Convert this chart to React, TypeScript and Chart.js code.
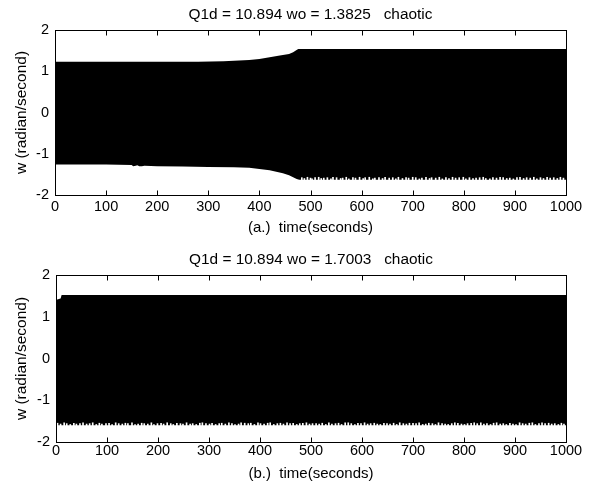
import React, { useEffect, useRef } from "react";
import { Chart, registerables } from "chart.js";

Chart.register(...registerables);

// ---------- data ----------
const xTickValues = [0, 100, 200, 300, 400, 500, 600, 700, 800, 900, 1000];
const yTickValues = [-2, -1, 0, 1, 2];

const titleA = "Q1d = 10.894 wo = 1.3825   chaotic";
const titleB = "Q1d = 10.894 wo = 1.7003   chaotic";
const xLabelA = "(a.)  time(seconds)";
const xLabelB = "(b.)  time(seconds)";
const yLabel = "w (radian/second)";

// (a) upper envelope of w(t)
const upperTimeA = [0, 100, 200, 280, 330, 380, 400, 420, 440, 458, 466, 472, 476, 480, 1000];
const upperA = [1.23, 1.23, 1.23, 1.23, 1.24, 1.27, 1.3, 1.34, 1.38, 1.42, 1.46, 1.51, 1.54, 1.54, 1.54];
// (a) lower envelope of w(t)
const lowerTimeA = [0, 100, 150, 153, 158, 161, 165, 170, 175, 200, 250, 300, 350, 380, 400, 420, 446, 458, 466, 473, 478, 1000];
const lowerA = [-1.26, -1.26, -1.27, -1.3, -1.29, -1.28, -1.3, -1.3, -1.29, -1.3, -1.31, -1.32, -1.33, -1.34, -1.37, -1.4, -1.47, -1.52, -1.57, -1.61, -1.63, -1.63];
// (a) minima that do not reach the envelope bottom
const notchTimeA = [
  483, 488, 494, 500, 503, 509, 516, 521, 526, 533, 540, 544, 551, 559, 563, 570, 575, 583, 588, 596,
  603, 607, 615, 622, 626, 634, 641, 646, 654, 661, 667, 672, 680, 687, 692, 700, 706, 713, 718, 726,
  733, 737, 745, 752, 758, 765, 771, 778, 784, 791, 799, 804, 811, 818, 824, 831, 838, 843, 851, 857,
  864, 871, 877, 884, 890, 897, 904, 910, 917, 923, 930, 937, 943, 950, 956, 963, 969, 976, 983, 989, 995,
];
const notchTopA = [
  -1.58, -1.6, -1.57, -1.59, -1.61, -1.58, -1.57, -1.6, -1.59, -1.58,
  -1.61, -1.57, -1.58, -1.6, -1.59, -1.57, -1.61, -1.58, -1.59, -1.57,
  -1.6, -1.58, -1.57, -1.61, -1.59, -1.58, -1.6, -1.57, -1.59, -1.58,
  -1.61, -1.57, -1.6, -1.58, -1.59, -1.57, -1.58, -1.61, -1.59, -1.57,
  -1.6, -1.58, -1.59, -1.57, -1.61, -1.58, -1.6, -1.57, -1.59, -1.58,
  -1.57, -1.61, -1.58, -1.6, -1.59, -1.58, -1.57, -1.6, -1.61, -1.58,
  -1.59, -1.57, -1.58, -1.6, -1.59, -1.61, -1.58, -1.57, -1.6, -1.58,
  -1.59, -1.57, -1.61, -1.58, -1.6, -1.57, -1.59, -1.58, -1.6, -1.57, -1.59,
];

// (b) envelopes
const upperTimeB = [0, 4, 9, 11, 1000];
const upperB = [1.4, 1.42, 1.44, 1.52, 1.52];
const lowerTimeB = [0, 1000];
const lowerB = [-1.6, -1.6];
const notchTimeB = [
  3, 9, 16, 21, 28, 35, 40, 47, 53, 60, 66, 72, 79, 85, 90, 98, 104, 110, 117, 123,
  130, 136, 141, 149, 155, 161, 168, 173, 180, 187, 192, 199, 206, 211, 218, 225, 230, 237, 244, 249,
  256, 263, 268, 275, 282, 287, 294, 301, 306, 313, 320, 325, 332, 339, 345, 351, 358, 363, 370, 377,
  382, 389, 396, 401, 408, 415, 420, 427, 434, 440, 446, 453, 459, 465, 472, 478, 484, 491, 497, 503,
  510, 516, 522, 529, 535, 541, 548, 554, 560, 567, 573, 579, 586, 592, 598, 605, 611, 617, 624, 630,
  636, 643, 649, 655, 662, 668, 674, 681, 687, 693, 700, 706, 712, 719, 725, 731, 738, 744, 750, 757,
  763, 769, 776, 782, 788, 795, 801, 807, 814, 820, 826, 833, 839, 845, 852, 858, 864, 871, 877, 883,
  890, 896, 902, 909, 915, 921, 928, 934, 940, 947, 953, 959, 966, 972, 978, 985, 991, 996,
];
const notchTopB = [
  -1.55, -1.57, -1.54, -1.56, -1.58, -1.55, -1.57, -1.56, -1.54, -1.57,
  -1.56, -1.54, -1.58, -1.55, -1.57, -1.56, -1.55, -1.58, -1.54, -1.56,
  -1.57, -1.55, -1.56, -1.54, -1.58, -1.57, -1.55, -1.56, -1.57, -1.54,
  -1.58, -1.56, -1.55, -1.57, -1.54, -1.56, -1.58, -1.55, -1.56, -1.57,
  -1.54, -1.57, -1.56, -1.58, -1.55, -1.54, -1.56, -1.57, -1.55, -1.58,
  -1.56, -1.55, -1.57, -1.54, -1.56, -1.58, -1.57, -1.54, -1.55, -1.56,
  -1.55, -1.58, -1.54, -1.56, -1.57, -1.55, -1.54, -1.58, -1.56, -1.55,
  -1.57, -1.54, -1.56, -1.55, -1.58, -1.56, -1.55, -1.54, -1.57, -1.56,
  -1.56, -1.57, -1.55, -1.58, -1.54, -1.57, -1.56, -1.55, -1.58, -1.54,
  -1.54, -1.56, -1.58, -1.55, -1.56, -1.54, -1.57, -1.56, -1.55, -1.57,
  -1.58, -1.55, -1.56, -1.57, -1.55, -1.58, -1.54, -1.56, -1.57, -1.55,
  -1.55, -1.56, -1.54, -1.58, -1.57, -1.55, -1.56, -1.58, -1.54, -1.56,
  -1.57, -1.58, -1.56, -1.54, -1.55, -1.57, -1.58, -1.56, -1.55, -1.54,
  -1.56, -1.54, -1.57, -1.56, -1.58, -1.55, -1.54, -1.57, -1.56, -1.58,
  -1.55, -1.57, -1.58, -1.54, -1.56, -1.57, -1.55, -1.54, -1.58, -1.56,
  -1.54, -1.56, -1.55, -1.57, -1.56, -1.58, -1.55, -1.57,
];

// ---------- styling ----------
const FONT = '"Liberation Sans", Arial, Helvetica, sans-serif';
const W = 591;
const H = 242;

const frameTicks = {
  id: "frameTicks",
  afterDatasetsDraw(chart: any) {
    const { ctx, chartArea: a, scales } = chart;
    const xs = scales.x;
    const ys = scales.y;
    ctx.save();
    ctx.strokeStyle = "#000";
    ctx.lineWidth = 1;
    const L = Math.round(a.left) + 0.5;
    const R = Math.round(a.right) + 0.5;
    const T = Math.round(a.top) + 0.5;
    const B = Math.round(a.bottom) + 0.5;
    ctx.beginPath();
    for (const t of xTickValues) {
      const px = Math.round(xs.getPixelForValue(t)) + 0.5;
      ctx.moveTo(px, B);
      ctx.lineTo(px, B - 5);
      ctx.moveTo(px, T);
      ctx.lineTo(px, T + 5);
    }
    for (const v of yTickValues) {
      const py = Math.round(ys.getPixelForValue(v)) + 0.5;
      ctx.moveTo(L, py);
      ctx.lineTo(L + 5, py);
      ctx.moveTo(R, py);
      ctx.lineTo(R - 5, py);
    }
    ctx.stroke();
    ctx.strokeRect(L, T, R - L, B - T);
    ctx.restore();
  },
};

// axes title centred over the plot box (as MATLAB does)
const panelTitle = {
  id: "panelTitle",
  afterDraw(chart: any, _args: any, opts: any) {
    const { ctx, chartArea: a } = chart;
    ctx.save();
    ctx.fillStyle = "#000";
    ctx.font = `normal ${opts.size}px ${FONT}`;
    ctx.textAlign = "center";
    ctx.textBaseline = "middle";
    ctx.fillText(opts.text, (a.left + a.right) / 2, opts.y);
    ctx.restore();
  },
};

type Spec = {
  title: string;
  xLabel: string;
  upperTime: number[];
  upper: number[];
  lowerTime: number[];
  lower: number[];
  notchTime: number[];
  notchTop: number[];
  titleY: number;
  padTop: number;
  xAxisHeight: number;
  yAxisWidth: number;
  xTickPad: number;
  xTitlePadBottom: number;
};

const pts = (xs: number[], ys: number[]) =>
  xs.slice(0, Math.min(xs.length, ys.length)).map((x, i) => ({ x, y: ys[i] }));

function buildConfig(s: Spec): any {
  return {
    type: "line",
    data: {
      datasets: [
        {
          type: "line",
          data: pts(s.upperTime, s.upper),
          borderColor: "#000",
          backgroundColor: "#000",
          borderWidth: 0,
          pointRadius: 0,
          tension: 0,
          fill: "+1",
          order: 1,
        },
        {
          type: "line",
          data: pts(s.lowerTime, s.lower),
          borderColor: "#000",
          backgroundColor: "#000",
          borderWidth: 0,
          pointRadius: 0,
          tension: 0,
          fill: false,
          order: 1,
        },
        {
          type: "bar",
          data: pts(s.notchTime, s.notchTop),
          backgroundColor: "#fff",
          borderWidth: 0,
          barThickness: 1,
          base: -2,
          order: 0,
        },
      ],
    },
    options: {
      responsive: false,
      animation: false,
      events: [],
      layout: { padding: { top: s.padTop, left: 0, right: 25, bottom: 0 } },
      plugins: {
        legend: { display: false },
        tooltip: { enabled: false },
        title: { display: false },
        panelTitle: { text: s.title, y: s.titleY, size: 15.4 },
      },
      scales: {
        x: {
          type: "linear",
          min: 0,
          max: 1000,
          offset: false,
          grid: { display: false, drawTicks: false },
          border: { display: false },
          ticks: {
            stepSize: 100,
            autoSkip: false,
            maxRotation: 0,
            color: "#000",
            padding: s.xTickPad,
            font: { family: FONT, size: 14.5 },
            callback: (v: number) => String(v),
          },
          title: {
            display: true,
            text: s.xLabel,
            color: "#000",
            font: { family: FONT, size: 15 },
            padding: { top: 0, bottom: s.xTitlePadBottom },
          },
          afterFit: (sc: any) => {
            sc.height = s.xAxisHeight;
          },
        },
        y: {
          type: "linear",
          min: -2,
          max: 2,
          grid: { display: false, drawTicks: false },
          border: { display: false },
          ticks: {
            stepSize: 1,
            color: "#000",
            padding: 6,
            font: { family: FONT, size: 14.5 },
            callback: (v: number) => String(v),
          },
          title: {
            display: true,
            text: yLabel,
            color: "#000",
            font: { family: FONT, size: 15.5 },
            padding: { top: 12.7, bottom: 0 },
          },
          afterFit: (sc: any) => {
            sc.width = s.yAxisWidth;
          },
        },
      },
    },
    plugins: [frameTicks, panelTitle],
  };
}

const specA: Spec = {
  title: titleA,
  xLabel: xLabelA,
  upperTime: upperTimeA,
  upper: upperA,
  lowerTime: lowerTimeA,
  lower: lowerA,
  notchTime: notchTimeA,
  notchTop: notchTopA,
  titleY: 14.5,
  padTop: 30,
  xAxisHeight: 47,
  yAxisWidth: 55,
  xTickPad: 3.5,
  xTitlePadBottom: 5.1,
};

const specB: Spec = {
  title: titleB,
  xLabel: xLabelB,
  upperTime: upperTimeB,
  upper: upperB,
  lowerTime: lowerTimeB,
  lower: lowerB,
  notchTime: notchTimeB,
  notchTop: notchTopB,
  titleY: 18,
  padTop: 33,
  xAxisHeight: 42,
  yAxisWidth: 56,
  xTickPad: 0.5,
  xTitlePadBottom: 1.6,
};

function Panel({ spec, top }: { spec: Spec; top: number }) {
  const ref = useRef<HTMLCanvasElement>(null);
  useEffect(() => {
    const chart = new Chart(ref.current as HTMLCanvasElement, buildConfig(spec));
    return () => chart.destroy();
  }, [spec]);
  return (
    <canvas
      ref={ref}
      width={W}
      height={H}
      style={{ position: "absolute", left: 0, top, width: W, height: H, display: "block" }}
    />
  );
}

export default function App() {
  return (
    <div style={{ position: "absolute", left: 0, top: 0, width: W, height: 484, background: "#fff" }}>
      <Panel spec={specA} top={0} />
      <Panel spec={specB} top={242} />
    </div>
  );
}
